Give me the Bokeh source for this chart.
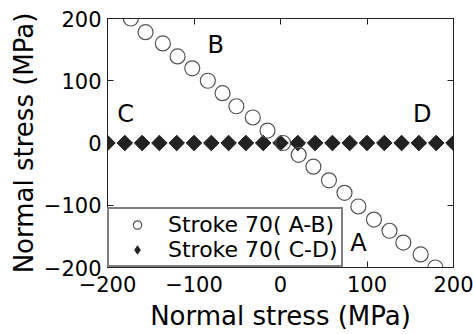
import math
from bokeh.plotting import figure
from bokeh.models import LinearAxis, FixedTicker, Legend, LegendItem, ColumnDataSource
from bokeh.core.properties import value
from bokeh.embed import file_html
from bokeh.resources import INLINE

# Stroke 70 (A-B) path
ab_x = [-173, -156, -136, -119, -102, -84, -67, -51, -32, -15, 3, 21, 38, 56, 74, 90, 108, 126, 142, 162, 179]
ab_y = [200, 178, 160, 139, 120, 100, 80, 59, 41, 20, 0, -19, -38, -60, -80, -102, -123, -141, -160, -179, -200]

# Stroke 70 (C-D) path
cd_x = [-200, -180, -160, -140, -120, -100, -80, -60, -40, -20, 0, 20, 40, 60, 80, 100, 120, 140, 160, 180, 200]
cd_y = [0] * 21

# point labels
lab_text = ["A", "B", "C", "D"]
lab_x = [90, -75, -179, 164]
lab_y = [-161, 157, 47, 47]

ticks = [-200, -100, 0, 100, 200]

FONT = "DejaVu Sans"

p = figure(width=473, height=334, x_range=(-200, 200), y_range=(-200, 200),
           output_backend="svg", toolbar_location=None,
           min_border_left=107, min_border_right=20, min_border_top=18, min_border_bottom=67)
p.background_fill_color = "white"
p.border_fill_color = "white"
p.outline_line_color = "#222"
p.grid.visible = False

for ax in (p.xaxis[0], p.yaxis[0]):
    ax.ticker = FixedTicker(ticks=ticks)
    ax.major_tick_in = 6
    ax.major_tick_out = 0
    ax.minor_tick_line_color = None
    ax.axis_line_color = "#222"
    ax.major_tick_line_color = "#222"
    ax.major_label_text_font = FONT
    ax.major_label_text_font_size = "21px"
    ax.major_label_text_color = "black"
    ax.axis_label_text_font = FONT
    ax.axis_label_text_font_size = "26px"
    ax.axis_label_text_font_style = "normal"
    ax.axis_label_text_color = "black"

p.xaxis.axis_label = "Normal stress (MPa)"
p.yaxis.axis_label = "Normal stress (MPa)"
p.xaxis.major_label_standoff = 8
p.yaxis.major_label_standoff = 6
p.xaxis.axis_label_standoff = 6
p.yaxis.axis_label_standoff = 2

for loc in ("above", "right"):
    ax = LinearAxis(ticker=FixedTicker(ticks=ticks), major_tick_in=6, major_tick_out=0,
                    minor_tick_line_color=None, axis_line_color="#222",
                    major_tick_line_color="#222",
                    major_label_overrides={t: "" for t in ticks},
                    major_label_standoff=0)
    p.add_layout(ax, loc)

src_ab = ColumnDataSource(dict(x=ab_x, y=ab_y))
src_cd = ColumnDataSource(dict(x=cd_x, y=cd_y))

r_cd = p.scatter("x", "y", source=src_cd, marker="square", size=11, angle=math.pi / 4,
                 fill_color="#222", line_color="#222")
r_ab = p.scatter("x", "y", source=src_ab, marker="circle", size=15,
                 fill_color="white", fill_alpha=0.0, line_color="#555", line_width=1.2)
# legend-only proxy showing a diamond symbol (hidden in the plot area)
r_cd_leg = p.scatter("x", "y", source=src_cd, marker="diamond", size=11,
                     fill_color="#222", line_color="#222", visible=False)

src_lab = ColumnDataSource(dict(x=lab_x, y=lab_y, t=lab_text))
p.text("x", "y", text="t", source=src_lab, text_font=value(FONT), text_font_size="24px",
       text_align="center", text_baseline="middle", text_color="black")

legend = Legend(items=[LegendItem(label="Stroke 70( A-B)", renderers=[r_ab]),
                       LegendItem(label="Stroke 70( C-D)", renderers=[r_cd_leg])],
                location="bottom_left", margin=0, padding=3, spacing=0,
                glyph_width=50, glyph_height=21, label_height=18, label_width=168,
                label_standoff=6,
                label_text_font=FONT, label_text_font_size="22px",
                label_text_color="black",
                label_text_line_height=0.8,
                inactive_fill_alpha=0.0,
                border_line_color="black", border_line_width=2,
                background_fill_color="white", background_fill_alpha=1.0)
p.add_layout(legend)

open("out.html", "w").write(file_html(p, INLINE))
